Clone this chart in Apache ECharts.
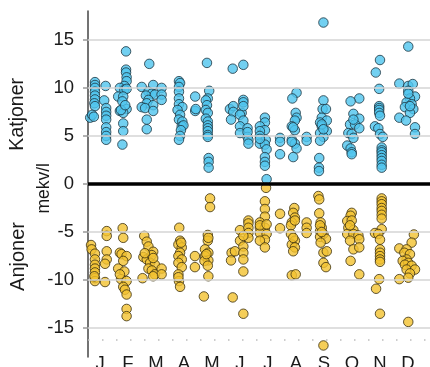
<!DOCTYPE html>
<html>
<head>
<meta charset="utf-8">
<script src="https://cdn.jsdelivr.net/npm/echarts@6/dist/echarts.min.js"></script>
<style>
  html, body { margin: 0; padding: 0; background: #fff; }
  #chart { width: 430px; height: 367px; }
</style>
</head>
<body>
<div id="chart"></div>
<script>
// Month initials along the x axis
const months = ['J', 'F', 'M', 'A', 'M', 'J', 'J', 'A', 'S', 'O', 'N', 'D'];
const monthIndex = [0, 1, 2, 3, 4, 5, 6, 7, 8, 9, 10, 11];

// y-axis ticks and grid lines (mekv/l)
const tickValues = [-15, -10, -5, 0, 5, 10, 15];
const gridValues = [-15, -10, -5, 5, 10, 15];

// Cations per sample: [month position (index + spread within month), mekv/l]
const katjoner = [
  // Jan
  [-0.18,10.6],[-0.18,10.3],[-0.18,10.0],[-0.18,9.6],[-0.18,9.2],[-0.18,8.8],[-0.2,8.4],[-0.18,8.1],
  [-0.35,6.9],[-0.28,7.2],[-0.22,7.0],
  [0.2,10.2],[0.15,8.7],[0.22,7.9],[0.22,7.5],[0.22,7.1],[0.22,6.7],[0.22,5.9],[0.22,5.4],[0.22,5.0],[0.22,4.6],
  // Feb
  [0.93,13.8],[0.93,11.9],[0.93,11.6],[0.95,11.1],[0.95,10.7],[0.87,10.2],[0.71,10.0],[0.87,9.8],[0.95,9.9],
  [0.65,9.1],[0.83,9.1],[0.8,8.6],[0.71,7.6],[0.95,7.8],[0.83,7.4],[0.75,7.7],[0.83,6.3],[0.83,5.5],[0.8,4.1],[0.9,8.2],
  // Mar
  [1.76,12.5],[1.49,10.1],[1.9,10.3],[2.2,10.0],[1.73,9.6],[1.85,9.4],[1.64,9.2],[1.96,9.3],[2.2,9.3],
  [1.73,8.75],[2.2,8.75],[1.67,8.4],[1.49,8.0],[1.9,8.2],[1.61,7.9],[1.9,7.6],[1.67,6.7],[1.67,5.7],
  // Apr
  [2.82,10.7],[2.86,10.5],[2.82,10.1],[2.82,9.6],[2.82,8.9],[2.82,8.3],[2.94,8.0],[2.77,7.7],[2.86,7.2],
  [2.82,6.7],[2.94,6.5],[2.92,6.0],[2.98,6.1],[2.89,5.6],[2.86,5.0],[2.82,4.6],
  // May
  [3.4,9.1],[3.4,7.6],[3.42,7.8],
  [3.82,12.6],[3.9,9.7],[3.85,8.9],[3.78,8.7],[3.82,8.2],[3.78,7.7],[3.85,7.4],[3.78,6.8],[3.85,6.5],
  [3.85,6.1],[3.85,5.8],[3.85,5.5],[3.85,5.1],[3.85,4.9],[3.88,2.7],[3.88,2.3],[3.88,1.7],
  // Jun
  [4.74,12.0],[5.12,12.4],[4.64,7.8],[4.76,8.1],[4.76,7.5],[4.68,6.7],[5.06,7.4],[5.12,8.75],[5.12,8.5],
  [5.12,8.1],[5.0,7.2],[5.12,6.6],[5.0,6.0],[5.27,5.8],[5.0,5.3],[5.27,4.9],[5.3,4.6],[5.3,4.2],[5.27,5.4],
  // Jul
  [5.89,6.9],[5.89,6.4],[5.71,6.0],[5.89,5.6],[5.71,5.5],[5.71,5.0],[5.92,4.6],[5.71,4.2],[5.89,4.1],
  [5.95,3.6],[5.89,2.8],[5.89,2.3],[5.89,1.9],[5.95,0.5],[6.43,4.8],[6.43,4.4],[6.43,3.1],[5.71,4.7],
  // Aug
  [7.02,9.5],[6.87,8.9],[6.99,7.4],[7.02,6.9],[6.96,6.6],[6.85,6.0],[6.96,5.6],[6.85,4.6],[6.96,4.2],
  [7.02,3.7],[6.9,2.8],[7.38,4.9],[7.38,4.5],[6.9,5.9],[6.85,4.4],
  // Sep
  [7.98,16.8],[7.98,8.7],[7.95,7.8],[8.07,7.8],[7.92,6.9],[8.1,6.6],[7.86,6.4],[7.92,6.0],[8.1,5.5],
  [7.86,5.3],[7.98,4.9],[7.86,4.5],[7.83,2.7],[7.82,1.7],[7.82,1.35],[7.92,6.2],[7.98,5.7],
  // Oct
  [9.26,8.9],[8.95,8.6],[9.05,7.3],[9.26,6.8],[8.93,6.2],[9.11,6.2],[9.26,5.8],[8.87,5.3],[8.99,5.2],
  [9.05,4.8],[8.83,4.0],[8.95,3.7],[8.99,3.3],[8.99,3.1],[9.05,6.7],
  // Nov
  [10.0,12.9],[9.85,11.6],[9.97,9.9],[9.97,8.1],[9.97,7.9],[9.97,7.7],[9.97,7.4],[10.0,7.1],[9.82,6.0],
  [9.94,5.8],[10.0,5.2],[10.1,4.9],[10.06,3.8],[10.06,3.5],[10.06,3.3],[10.06,3.0],[10.06,2.7],
  [10.06,2.4],[10.06,2.0],[10.06,1.7],
  // Dec
  [11.01,14.3],[10.69,10.45],[11.01,10.2],[11.17,10.4],[11.01,9.7],[11.25,9.1],[11.07,8.9],[10.95,8.5],
  [11.13,8.3],[10.89,8.0],[11.19,7.8],[11.07,7.4],[10.69,6.9],[10.93,6.6],[11.25,5.9],[11.25,5.2],
  [11.01,9.4],[11.07,8.1]
];

// Anions per sample (plotted as negative mekv/l)
const anjoner = [
  // Jan
  [-0.32,-6.35],[-0.3,-6.8],[-0.18,-7.25],[-0.18,-7.85],[-0.18,-8.4],[-0.18,-8.8],[-0.18,-9.2],[-0.18,-9.8],
  [-0.18,-10.1],[0.24,-4.9],[0.24,-5.4],[0.24,-7.0],[0.24,-7.85],[0.18,-8.3],[0.18,-10.2],[-0.2,-9.6],
  // Feb
  [0.81,-4.6],[0.83,-5.6],[0.71,-7.15],[0.77,-7.3],[0.95,-7.5],[0.83,-8.0],[0.65,-8.8],[0.87,-9.1],
  [0.75,-9.9],[0.95,-10.1],[0.83,-10.7],[0.89,-11.0],[0.95,-11.5],[0.95,-13.0],[0.95,-13.75],[0.71,-9.4],
  // Mar
  [1.58,-5.4],[1.67,-6.0],[1.73,-6.5],[1.9,-7.05],[1.55,-7.6],[1.67,-7.85],[1.85,-7.4],[1.79,-8.2],
  [1.96,-8.4],[1.73,-8.8],[1.85,-9.0],[1.96,-9.4],[2.2,-8.8],[2.2,-9.4],[1.52,-9.8],[1.9,-9.6],
  [1.6,-7.2],[1.9,-7.7],
  // Apr
  [2.83,-4.55],[2.86,-5.9],[2.8,-6.3],[2.92,-6.6],[2.86,-7.15],[2.8,-7.5],[2.92,-7.85],[2.8,-8.2],
  [2.92,-8.65],[2.8,-9.4],[2.82,-10.1],[2.86,-10.7],[2.9,-6.1],[2.8,-9.7],
  // May
  [3.39,-7.5],[3.39,-8.65],[3.71,-11.7],
  [3.93,-1.5],[3.93,-2.4],[3.85,-5.3],[3.85,-5.9],[3.75,-6.8],[3.87,-7.15],[3.75,-7.5],[3.87,-7.95],
  [3.73,-8.0],[3.85,-8.5],[3.87,-9.6],[3.87,-5.6],[3.8,-7.3],
  // Jun
  [4.7,-7.15],[4.68,-7.95],[4.82,-7.0],[4.74,-11.8],[5.12,-13.5],[5.0,-4.8],[5.0,-5.9],[5.12,-6.5],
  [5.12,-7.15],[5.12,-7.85],[5.12,-9.1],[5.3,-3.8],[5.3,-4.1],[5.3,-4.55],[5.3,-5.1],[5.3,-5.6],[5.12,-5.4],
  // Jul
  [5.93,-0.4],[5.89,-1.8],[5.89,-2.6],[5.89,-3.4],[5.71,-4.0],[5.71,-4.55],[5.89,-4.55],[5.71,-5.1],
  [5.95,-5.2],[5.89,-5.8],[5.71,-5.9],[5.89,-6.6],[6.43,-3.1],[6.43,-4.6],[5.71,-4.3],[5.95,-4.2],
  // Aug
  [6.94,-2.5],[6.9,-3.0],[6.96,-3.5],[6.85,-4.0],[6.82,-4.3],[6.82,-5.2],[6.96,-5.9],[6.85,-6.3],
  [6.96,-6.6],[6.9,-7.0],[6.85,-9.5],[6.99,-9.4],[7.38,-4.0],[7.38,-4.55],[7.38,-5.1],[6.96,-3.8],[6.9,-5.6],
  // Sep
  [7.8,-1.25],[7.83,-1.6],[7.83,-3.05],[7.88,-4.0],[7.92,-4.55],[7.86,-4.9],[7.98,-5.2],[7.86,-5.5],
  [8.07,-5.7],[7.88,-6.1],[7.98,-7.15],[8.1,-7.0],[7.98,-8.2],[8.07,-8.65],[7.98,-16.8],[7.86,-4.3],[7.92,-5.0],
  // Oct
  [8.99,-3.0],[8.95,-3.3],[8.83,-3.85],[8.99,-3.8],[8.87,-4.55],[9.05,-4.8],[8.83,-5.2],[9.05,-5.2],
  [9.23,-5.35],[8.93,-5.9],[9.26,-5.75],[9.05,-6.8],[9.26,-6.6],[8.95,-8.0],[9.26,-9.4],[8.93,-4.3],
  // Nov
  [10.06,-1.5],[10.06,-1.8],[10.06,-2.1],[10.06,-2.5],[10.06,-2.8],[10.06,-3.2],[10.06,-3.6],[10.06,-4.7],
  [9.82,-5.1],[9.94,-5.2],[10.0,-5.8],[10.0,-6.8],[10.0,-7.15],[10.0,-7.5],[10.0,-7.85],[10.0,-8.1],
  [9.97,-9.9],[9.86,-10.9],[10.0,-13.5],
  // Dec
  [11.21,-5.25],[11.13,-6.1],[10.69,-6.7],[10.95,-6.8],[10.87,-7.15],[11.07,-7.3],[10.95,-7.85],[10.81,-8.0],
  [11.01,-8.2],[10.89,-8.4],[11.13,-8.5],[10.95,-8.9],[11.25,-8.9],[11.07,-9.3],[11.01,-9.75],[10.69,-9.9],
  [11.01,-14.35]
];

// Level of the dotted guide row beneath the lowest grid line
const baselineGuide = -16.25;

const FONT = "'Liberation Sans', Arial, sans-serif";
const chart = echarts.init(document.getElementById('chart'), null, { renderer: 'canvas' });

chart.setOption({
  animation: false,
  backgroundColor: '#ffffff',
  grid: { left: 88, right: 0, top: 11, bottom: 10, containLabel: false, outerBoundsMode: 'none' },
  xAxis: {
    type: 'value',
    min: -0.4286,
    max: 11.786,
    axisLine: { show: false },
    axisTick: { show: false },
    splitLine: { show: false },
    axisLabel: {
      customValues: monthIndex,
      formatter: v => months[Math.round(v)],
      margin: -3,
      fontSize: 18.5,
      fontFamily: FONT,
      color: '#1a1a1a'
    }
  },
  yAxis: {
    type: 'value',
    min: -18,
    max: 18,
    axisLine: { show: true, onZero: false, lineStyle: { color: '#444', width: 1.5 } },
    axisTick: { show: true, customValues: tickValues, length: 5, lineStyle: { color: '#999', width: 1.5 } },
    splitLine: { show: false },
    axisLabel: {
      customValues: tickValues,
      margin: 14,
      fontSize: 18.5,
      fontFamily: FONT,
      color: '#1a1a1a'
    }
  },
  graphic: [
    { type: 'text', left: 8, top: 78, rotation: Math.PI / 2,
      style: { text: 'Katjoner', font: '19.5px ' + FONT, fill: '#1a1a1a' } },
    { type: 'text', left: 35, top: 163, rotation: Math.PI / 2,
      style: { text: 'mekv/l', font: '17.5px ' + FONT, fill: '#1a1a1a' } },
    { type: 'text', left: 8, top: 222, rotation: Math.PI / 2,
      style: { text: 'Anjoner', font: '20px ' + FONT, fill: '#1a1a1a' } }
  ],
  series: [
    {
      // grid lines, zero line and dotted guide row
      type: 'line',
      data: [],
      silent: true,
      z: 1,
      markLine: {
        silent: true,
        symbol: 'none',
        label: { show: false },
        animation: false,
        data: gridValues.map(v => ({ yAxis: v, lineStyle: { color: '#d4d4d4', width: 1.5, type: 'solid' } }))
          .concat([
            { yAxis: 0, lineStyle: { color: '#000', width: 3.5, type: 'solid' } },
            { yAxis: baselineGuide, lineStyle: { color: '#bdbdbd', width: 1.5, type: [1.5, 12.5], dashOffset: 0 } }
          ])
      }
    },
    {
      name: 'Katjoner',
      type: 'scatter',
      z: 3,
      data: katjoner,
      symbol: 'circle',
      symbolSize: 9.5,
      itemStyle: { color: '#4fc4ee', borderColor: '#1d3440', borderWidth: 1 }
    },
    {
      name: 'Anjoner',
      type: 'scatter',
      z: 3,
      data: anjoner,
      symbol: 'circle',
      symbolSize: 9.5,
      itemStyle: { color: '#f3c22f', borderColor: '#3b2f0f', borderWidth: 1 }
    }
  ]
});
</script>
</body>
</html>
